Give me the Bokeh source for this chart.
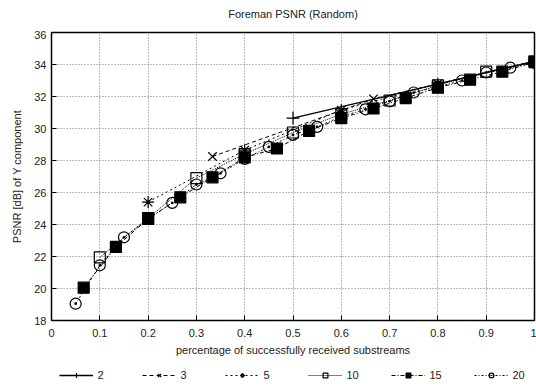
from bokeh.plotting import figure
from bokeh.models import Legend, LegendItem, FixedTicker
from bokeh.layouts import column
from bokeh.embed import file_html
from bokeh.resources import INLINE

# ---- data ----
x2 = [0.5, 1.0]
y2 = [30.65, 34.2]

x3 = [1/3, 2/3, 1.0]
y3 = [28.25, 31.85, 34.2]

x5 = [0.2, 0.4, 0.6, 0.8, 1.0]
y5 = [25.4, 28.65, 31.15, 32.8, 34.2]

x10 = [0.1, 0.2, 0.3, 0.4, 0.5, 0.6, 0.7, 0.8, 0.9, 1.0]
y10 = [21.95, 24.4, 26.9, 28.4, 29.75, 30.9, 31.75, 32.7, 33.55, 34.2]

x15 = [1/15, 2/15, 3/15, 4/15, 5/15, 6/15, 7/15, 8/15, 9/15, 10/15,
       11/15, 12/15, 13/15, 14/15, 1.0]
y15 = [20.05, 22.6, 24.35, 25.7, 26.95, 28.2, 28.75, 29.85, 30.65, 31.25,
       31.9, 32.55, 33.05, 33.55, 34.15]

x20 = [0.05, 0.1, 0.15, 0.2, 0.25, 0.3, 0.35, 0.4, 0.45, 0.5,
       0.55, 0.6, 0.65, 0.7, 0.75, 0.8, 0.85, 0.9, 0.95, 1.0]
y20 = [19.05, 21.45, 23.2, 24.35, 25.35, 26.5, 27.2, 28.1, 28.85, 29.6,
       30.1, 30.75, 31.2, 31.7, 32.25, 32.6, 33.0, 33.5, 33.8, 34.1]

series_labels = ["2", "3", "5", "10", "15", "20"]
x_ticks = [0, 0.1, 0.2, 0.3, 0.4, 0.5, 0.6, 0.7, 0.8, 0.9, 1.0]
x_tick_labels = ["0", "0.1", "0.2", "0.3", "0.4", "0.5", "0.6", "0.7", "0.8", "0.9", "1"]
y_ticks = [18, 20, 22, 24, 26, 28, 30, 32, 34, 36]
title_text = "Foreman PSNR (Random)"

FONT = "Liberation Sans"
c = "black"

styles = [
    dict(xs=x2, ys=y2, dash="solid", lw=1.3, marker="cross", size=13, fill=None),
    dict(xs=x3, ys=y3, dash="4 3", lw=1, marker="x", size=12, fill=None),
    dict(xs=x5, ys=y5, dash="2 3", lw=1, marker="asterisk", size=12, fill=None),
    dict(xs=x10, ys=y10, dash="1 1", lw=1, marker="square", size=11, fill=None),
    dict(xs=x15, ys=y15, dash="4 2 1 2", lw=1, marker="square", size=11, fill=c),
    dict(xs=x20, ys=y20, dash="2 2 1 2", lw=1, marker="circle_dot", size=11, fill=None),
]

# ---- title strip ----
hd = figure(width=536, height=30, output_backend="svg", toolbar_location=None,
            x_range=(0, 1), y_range=(0, 1), min_border_left=51, min_border_right=2,
            min_border_top=0, min_border_bottom=0)
hd.axis.visible = False
hd.grid.visible = False
hd.outline_line_color = None
hd.title.text = title_text
hd.title.align = "center"
hd.title.text_font = FONT
hd.title.text_font_size = "11px"
hd.title.text_font_style = "normal"
hd.title.text_color = "#222222"

# ---- main plot ----
p = figure(frame_width=483, frame_height=288, output_backend="svg", toolbar_location=None,
           x_range=(0, 1), y_range=(18, 36),
           min_border_left=51, min_border_right=2, min_border_top=2,
           min_border_bottom=42)

p.outline_line_color = "black"
p.outline_line_width = 1.5
p.background_fill_color = "white"
p.border_fill_color = "white"

for ax in (p.xaxis[0], p.yaxis[0]):
    ax.axis_line_color = None
    ax.major_tick_in = 5
    ax.major_tick_out = 0
    ax.minor_tick_line_color = None
    ax.major_tick_line_color = "black"
    ax.major_label_text_font = FONT
    ax.major_label_text_font_size = "11px"
    ax.major_label_text_color = "#222222"
    ax.axis_label_text_font = FONT
    ax.axis_label_text_font_size = "11px"
    ax.axis_label_text_font_style = "normal"
    ax.axis_label_text_color = "#222222"

p.xaxis.ticker = FixedTicker(ticks=x_ticks)
p.xaxis.major_label_overrides = {t: l for t, l in zip(x_ticks, x_tick_labels)}
p.yaxis.ticker = FixedTicker(ticks=y_ticks)
p.xaxis.axis_label = "percentage of successfully received substreams"
p.yaxis.axis_label = "PSNR [dB] of Y component"
p.xaxis.axis_label_standoff = 4
p.yaxis.axis_label_standoff = 8
p.xaxis.major_label_standoff = 8

p.grid.grid_line_color = "#777777"
p.grid.grid_line_dash = "1 2"
p.grid.grid_line_width = 1

for s in styles:
    p.line(s["xs"], s["ys"], line_color=c, line_width=s["lw"], line_dash=s["dash"])
    p.scatter(s["xs"], s["ys"], marker=s["marker"], size=s["size"], line_color=c,
              fill_color=s["fill"], line_width=1.2)

# ---- legend strip (same series, plotted outside its visible range) ----
lg = figure(width=536, height=25, output_backend="svg", toolbar_location=None,
            x_range=(5, 6), y_range=(0, 1), min_border=0)
lg.axis.visible = False
lg.grid.visible = False
lg.outline_line_color = None
items = []
for lab, s in zip(series_labels, styles):
    r = lg.line(s["xs"], s["ys"], line_color=c, line_width=s["lw"], line_dash=s["dash"])
    m = lg.scatter(s["xs"], s["ys"], marker=s["marker"], size=s["size"] - 1, line_color=c,
                   fill_color=s["fill"], line_width=1.2)
    items.append(LegendItem(label=lab, renderers=[r, m]))

legend = Legend(items=items, orientation="horizontal", location="center",
                border_line_color=None, background_fill_alpha=0,
                label_text_font=FONT, label_text_font_size="11px",
                label_text_color="#222222", label_height=12, label_width=14,
                glyph_width=34, glyph_height=12, spacing=30,
                label_standoff=5, padding=0, margin=0)
lg.add_layout(legend, "center")

layout = column(hd, p, lg, spacing=0)
open("out.html", "w").write(file_html(layout, INLINE))
